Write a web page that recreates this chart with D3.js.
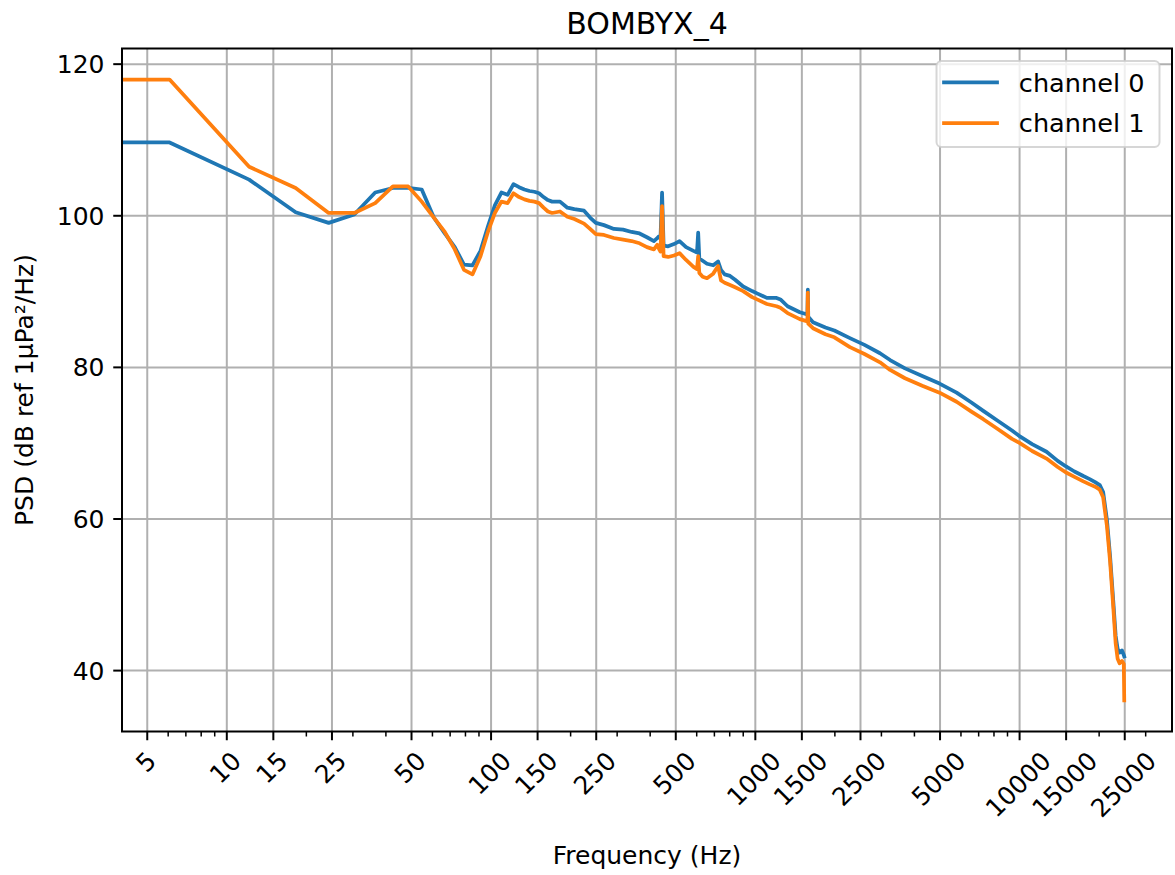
<!DOCTYPE html>
<html><head><meta charset="utf-8">
<script src="https://cdn.jsdelivr.net/npm/d3@7"></script>
<style>
html,body{margin:0;padding:0;background:#fff;}
svg{display:block;font-family:"DejaVu Sans",sans-serif;}
</style></head><body>
<svg id="chart" width="1175" height="875"></svg>
<script>
const chartTitle = "BOMBYX_4";
const xLabel = "Frequency (Hz)";
const yLabel = "PSD (dB ref 1µPa²/Hz)";
const seriesNames = ["channel 0", "channel 1"];
const seriesColors = ["#1f77b4", "#ff7f0e"];
const xTickValues = [5, 10, 15, 25, 50, 100, 150, 250, 500, 1000, 1500, 2500, 5000, 10000, 15000, 25000];
const yTickValues = [40, 60, 80, 100, 120];

const frequency = [0, 6.1, 12.2, 18.3, 24.4, 30.5, 36.6, 42.7, 48.8, 54.9, 61.0, 67.1, 73.2, 79.3, 85.4, 91.6, 97.7, 103.8, 109.9, 116.0,
  122.1, 128.2, 134.3, 140.4, 146.5, 152.6, 158.7, 164.8, 170.9, 183.1, 195.3, 207.5, 225.8, 238.0, 250.2, 268.6, 292.9, 317.4, 341.8, 366.2,
  390.6, 415.0, 427.2, 433.3, 439.5, 445.6, 451.7, 470.0, 494.4, 518.8, 549.3, 585.9, 604.2, 610.4, 616.5, 634.8, 659.2, 695.8, 726.3, 744.6,
  769.0, 805.7, 842.3, 903.3, 976.6, 1019.3, 1110.8, 1208.5, 1250, 1330, 1480, 1581, 1587, 1593, 1660, 1850, 2000, 2290, 2600, 2976,
  3250, 3700, 4300, 5000, 5800, 6600, 7320, 8300, 9400, 10000, 11200, 12700, 14000, 15000, 16200, 17500, 18500, 19400, 20200, 20800,
  21500, 22100, 22700, 23200, 23600, 24000, 24500, 24900, 25000];

const channel0 = [109.6, 109.6, 104.7, 100.4, 99.0, 100.1, 103.0, 103.6, 103.6, 103.4, 99.7, 97.6, 95.8, 93.5, 93.4, 95.3, 98.5, 101.3, 103.0, 102.7,
  104.1, 103.7, 103.4, 103.2, 103.1, 102.9, 102.4, 102.0, 101.8, 101.8, 101.0, 100.8, 100.6, 99.7, 99.0, 98.7, 98.2, 98.1, 97.8, 97.6,
  97.1, 96.6, 97.0, 97.2, 96.9, 103.0, 96.0, 95.9, 96.2, 96.6, 95.8, 95.3, 95.1, 97.7, 94.3, 94.0, 93.6, 93.4, 93.9, 92.8,
  92.2, 92.0, 91.5, 90.6, 90.0, 89.7, 89.1, 89.1, 88.9, 88.0, 87.2, 86.9, 90.2, 86.6, 85.9, 85.2, 84.8, 83.8, 82.9, 81.8,
  80.9, 79.8, 78.8, 77.8, 76.6, 75.3, 74.2, 72.9, 71.6, 70.9, 69.8, 68.8, 67.6, 66.9, 66.2, 65.6, 65.2, 64.8, 64.4, 63.5,
  59.8, 55.0, 49.3, 44.5, 42.8, 42.3, 42.6, 42.0, 41.8];

const channel1 = [117.9, 117.9, 106.4, 103.6, 100.3, 100.3, 101.6, 103.8, 103.8, 101.8, 99.7, 97.8, 95.5, 92.8, 92.2, 94.6, 97.8, 100.3, 101.8, 101.6,
  102.9, 102.4, 102.1, 101.9, 101.8, 101.6, 101.0, 100.5, 100.3, 100.5, 99.8, 99.5, 98.9, 98.2, 97.5, 97.4, 97.0, 96.8, 96.6, 96.3,
  95.8, 95.5, 96.1, 95.6, 95.2, 101.2, 94.6, 94.5, 94.7, 95.0, 94.1, 93.2, 92.9, 94.6, 92.4, 91.9, 91.7, 92.3, 93.3, 91.4,
  91.1, 90.8, 90.5, 90.0, 89.2, 88.9, 88.3, 88.0, 87.8, 87.1, 86.3, 86.0, 89.8, 85.7, 85.1, 84.3, 83.9, 82.6, 81.7, 80.6,
  79.6, 78.5, 77.5, 76.6, 75.4, 74.1, 73.1, 71.8, 70.5, 70.0, 68.9, 67.9, 66.8, 66.1, 65.5, 64.9, 64.5, 64.2, 63.8, 62.8,
  59.0, 54.3, 48.5, 43.5, 41.5, 40.9, 41.2, 40.8, 36.0];

const xLimits = [4.03, 37900];
const yLimits = [31.9, 122.0];

const plot = {left: 122, right: 1172, top: 48.5, bottom: 731.5};
const FS = 25;          // base font size (10pt)
const LFS = 25.6;       // legend font size
const pt = 2.5;         // px per point

const svg = d3.select("#chart");
const x = d3.scaleLog().domain(xLimits).range([plot.left, plot.right]);
const y = d3.scaleLinear().domain(yLimits).range([plot.bottom, plot.top]);

svg.append("defs").append("clipPath").attr("id", "clip")
  .append("rect").attr("x", plot.left).attr("y", plot.top)
  .attr("width", plot.right - plot.left).attr("height", plot.bottom - plot.top);

// grid
const grid = svg.append("g");
grid.append("g").attr("transform", `translate(0,${plot.bottom})`)
  .call(d3.axisBottom(x).tickValues(xTickValues).tickSize(-(plot.bottom - plot.top)).tickFormat(""))
  .call(g => g.select(".domain").remove())
  .call(g => g.selectAll(".tick line").attr("stroke", "#b0b0b0").attr("stroke-width", 0.8 * pt));
grid.append("g").attr("transform", `translate(${plot.left},0)`)
  .call(d3.axisLeft(y).tickValues(yTickValues).tickSize(-(plot.right - plot.left)).tickFormat(""))
  .call(g => g.select(".domain").remove())
  .call(g => g.selectAll(".tick line").attr("stroke", "#b0b0b0").attr("stroke-width", 0.8 * pt));

// lines
const series = [channel0, channel1].map(vals => frequency.map((f, i) => [f, vals[i]]));
const lineGen = d3.line()
  .x(d => x(Math.max(d[0], xLimits[0])))
  .y(d => y(d[1]));
const gLines = svg.append("g").attr("clip-path", "url(#clip)");
series.forEach((s, i) => {
  gLines.append("path").datum(s).attr("d", lineGen)
    .attr("fill", "none").attr("stroke", seriesColors[i])
    .attr("stroke-width", 1.5 * pt).attr("stroke-linejoin", "round").attr("stroke-linecap", "square");
});

// spines
svg.append("rect").attr("x", plot.left).attr("y", plot.top)
  .attr("width", plot.right - plot.left).attr("height", plot.bottom - plot.top)
  .attr("fill", "none").attr("stroke", "#000").attr("stroke-width", 0.8 * pt);

// minor x ticks
const minorVals = x.ticks().filter(v => !xTickValues.includes(v));
svg.append("g").attr("transform", `translate(0,${plot.bottom})`)
  .call(d3.axisBottom(x).tickValues(minorVals).tickSize(2 * pt).tickFormat(""))
  .call(g => g.select(".domain").remove())
  .call(g => g.selectAll(".tick line").attr("stroke", "#000").attr("stroke-width", 0.6 * pt));

// major x ticks
const gx = svg.append("g").attr("transform", `translate(0,${plot.bottom})`)
  .call(d3.axisBottom(x).tickValues(xTickValues).tickSize(3.5 * pt).tickPadding(3.5 * pt).tickFormat(d => String(d)))
  .call(g => g.select(".domain").remove())
  .call(g => g.selectAll(".tick line").attr("stroke", "#000").attr("stroke-width", 0.8 * pt));
gx.selectAll(".tick text")
  .attr("font-size", FS).attr("fill", "#000").attr("font-family", "DejaVu Sans")
  .each(function () {
    const t = d3.select(this);
    t.attr("y", null).attr("dy", null).attr("x", null);
    const w = this.getComputedTextLength();
    const h = 0.985 * FS;
    const off = 7 * pt + (w + h) / (2 * Math.SQRT2);
    t.attr("text-anchor", "middle")
      .attr("transform", `translate(0,${off}) rotate(-45)`)
      .attr("y", 0.27 * FS);
  });

// y ticks
svg.append("g").attr("transform", `translate(${plot.left},0)`)
  .call(d3.axisLeft(y).tickValues(yTickValues).tickSize(3.5 * pt).tickPadding(3.5 * pt))
  .call(g => g.select(".domain").remove())
  .call(g => g.selectAll(".tick line").attr("stroke", "#000").attr("stroke-width", 0.8 * pt))
  .call(g => g.selectAll(".tick text").attr("font-size", FS).attr("fill", "#000")
    .attr("font-family", "DejaVu Sans").attr("dy", "0.36em"));

// labels
svg.append("text").attr("x", (plot.left + plot.right) / 2).attr("y", plot.top - 15)
  .attr("text-anchor", "middle").attr("font-size", 30).attr("fill", "#000").text(chartTitle);
svg.append("text").attr("x", (plot.left + plot.right) / 2).attr("y", 864)
  .attr("text-anchor", "middle").attr("font-size", FS).attr("fill", "#000").text(xLabel);
svg.append("text").attr("transform", `translate(33,${(plot.top + plot.bottom) / 2}) rotate(-90)`)
  .attr("text-anchor", "middle").attr("font-size", FS).attr("fill", "#000").text(yLabel);

// legend
const leg = svg.append("g");
const legRight = plot.right - 0.5 * FS;
const legTop = plot.top + 0.5 * FS;
const legTexts = leg.selectAll("text.lt").data(seriesNames).join("text").attr("class", "lt")
  .attr("font-size", LFS).attr("fill", "#000").text(d => d);
const maxW = d3.max(legTexts.nodes(), n => n.getComputedTextLength());
const legW = maxW + 3.8 * LFS;
const legH = 86;
const legLeft = legRight - legW;
leg.insert("rect", "text").attr("x", legLeft).attr("y", legTop).attr("width", legW).attr("height", legH)
  .attr("rx", 5).attr("ry", 5)
  .attr("fill", "#fff").attr("fill-opacity", 0.8)
  .attr("stroke", "#cccccc").attr("stroke-opacity", 0.8).attr("stroke-width", 2);
const rowY = [legTop + 21.3, legTop + 62];
seriesNames.forEach((n, i) => {
  leg.append("line").attr("x1", legLeft + 7.5).attr("x2", legLeft + 60.5)
    .attr("y1", rowY[i]).attr("y2", rowY[i])
    .attr("stroke", seriesColors[i]).attr("stroke-width", 1.5 * pt).attr("stroke-linecap", "square");
});
legTexts.attr("x", legLeft + 82.3).attr("y", (d, i) => rowY[i] + 0.36 * LFS);
</script>
</body></html>
